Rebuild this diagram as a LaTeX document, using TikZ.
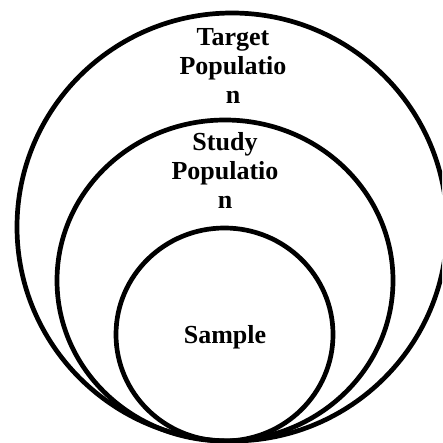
\documentclass[tikz,border=0pt]{standalone}
\usepackage{fontspec}
\setmainfont{Liberation Serif}
\usetikzlibrary{shapes.geometric}

\tikzset{
  ring/.style={draw,ellipse,line width=4.7pt,inner sep=0pt},
  lbl/.style={align=center,inner sep=0pt,font=\fontsize{26}{29}\selectfont\bfseries}
}

\begin{document}
\begin{tikzpicture}[x=1pt,y=-1pt]
        \useasboundingbox (0,0) rectangle (442,443);
        \clip (0,0) rectangle (442,443);
        \node[ring,minimum width=430,minimum height=428] (target) at (232,227) {};
        \node[ring,minimum width=336,minimum height=321] (study) at (225,280.5) {};
        \node[ring,minimum width=217,minimum height=213] (sample) at (224.5,334.5) {};
        \node[lbl] (targetlbl) at (233,66) {Target\\Populatio\\n};
        \node[lbl] (studylbl) at (225,170) {Study\\Populatio\\n};
        \node[lbl] (samplelbl) at (225,337) {Sample};
      \end{tikzpicture}
\end{document}
